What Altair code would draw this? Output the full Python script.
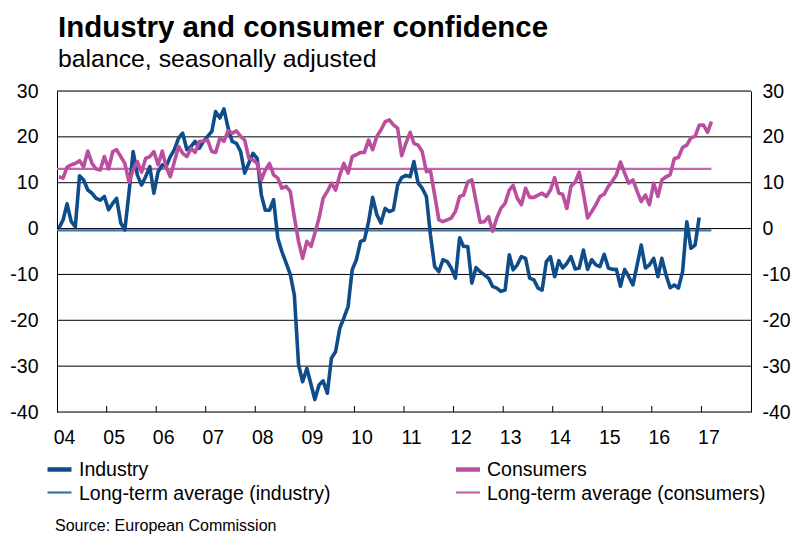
import altair as alt
import pandas as pd

# ---- data (monthly, Jan 2004 onwards) ----
industry = [
    0.1, 1.9, 5.4, 1.5, 0.4, 11.5, 10.6, 8.4, 7.7, 6.6, 6.2, 7.0,
    4.1, 5.5, 6.6, 1.2, -0.3, 8.0, 16.8, 11.7, 9.5, 11.3, 13.5, 7.7,
    12.4, 13.9, 13.5, 15.7, 17.2, 19.7, 20.8, 17.2, 17.9, 19.0, 17.5, 19.0,
    20.1, 21.2, 25.5, 24.1, 26.1, 21.9, 19.0, 18.6, 16.8, 12.1, 14.3, 16.4,
    15.3, 7.3, 4.0, 4.0, 6.3, -2.1, -5.0, -7.5, -10.0, -14.5, -29.7, -33.4,
    -30.5, -34.0, -37.3, -34.1, -33.2, -35.9, -28.3, -26.8, -21.7, -19.5, -17.0, -9.0,
    -6.8, -2.8, -2.5, 1.5, 6.8, 3.0, 1.2, 4.4, 3.7, 4.1, 9.5, 11.1,
    11.6, 11.3, 14.6, 9.9, 8.8, 7.0, -1.4, -8.3, -9.4, -6.8, -7.2, -8.6,
    -10.8, -2.0, -3.9, -3.9, -11.9, -8.5, -9.4, -10.1, -10.8, -12.6, -13.0, -13.7,
    -13.4, -5.7, -9.0, -7.9, -6.1, -6.5, -10.8, -11.2, -13.0, -13.4, -7.2, -6.1,
    -10.5, -7.0, -8.6, -7.6, -6.1, -8.8, -8.6, -4.7, -8.9, -6.8, -7.9, -8.3,
    -5.6, -8.6, -8.9, -8.9, -12.6, -8.9, -10.5, -12.3, -7.9, -3.6, -8.6, -7.9,
    -6.5, -10.5, -6.5, -10.1, -12.9, -12.3, -13.0, -9.4, 1.5, -4.3, -3.6, 2.4,
]
consumers = [
    11.3, 11.0, 13.4, 13.9, 14.2, 14.8, 13.5, 16.9, 14.2, 13.0, 12.8, 15.7,
    13.0, 16.8, 17.2, 15.7, 14.2, 10.1, 12.8, 14.6, 12.3, 15.3, 15.7, 16.8,
    13.9, 16.9, 13.5, 11.3, 14.6, 17.9, 16.4, 15.7, 17.5, 16.6, 19.0, 19.1,
    19.3, 16.8, 16.6, 19.7, 19.0, 21.3, 20.8, 21.3, 20.1, 19.3, 15.3, 15.0,
    14.2, 10.6, 12.8, 14.2, 11.7, 11.0, 8.8, 9.2, 8.1, 2.5, -2.8, -6.5,
    -2.8, -3.9, -1.0, 2.3, 6.6, 8.1, 9.9, 8.4, 11.7, 14.2, 12.1, 15.7,
    16.1, 16.6, 16.6, 19.3, 17.2, 20.1, 21.5, 23.3, 23.7, 22.6, 21.9, 15.9,
    18.6, 21.0, 18.6, 18.2, 16.8, 12.4, 12.6, 7.3, 1.9, 1.5, 1.9, 2.3,
    3.7, 7.0, 7.3, 10.2, 10.6, 5.9, 1.4, 1.5, 2.6, -0.6, 2.3, 4.4,
    5.5, 8.4, 9.4, 6.6, 5.2, 8.8, 6.8, 6.8, 7.3, 7.7, 7.0, 8.4,
    11.1, 7.7, 7.5, 4.4, 9.2, 10.1, 12.3, 7.7, 2.3, 3.7, 5.2, 7.0,
    7.5, 9.2, 10.3, 11.7, 14.5, 12.1, 9.9, 10.6, 8.1, 5.9, 7.3, 5.2,
    9.9, 7.0, 10.6, 11.3, 11.7, 15.3, 15.5, 17.7, 18.2, 19.8, 20.1, 22.5,
    22.6, 21.0, 23.3,
]
avg_series = ["industry", "consumers"]
avg_values = [-0.4, 13.0]
avg_start = "2004-01-01"
avg_end = "2017-03-15"
y_ticks = [30, 20, 10, 0, -10, -20, -30, -40]
year_ticks = list(range(2004, 2018))
year_labels = ["04", "05", "06", "07", "08", "09", "10",
               "11", "12", "13", "14", "15", "16", "17"]

legend_labels = ["Industry", "Long-term average (industry)",
                 "Consumers", "Long-term average (consumers)"]
title_text = "Industry and consumer confidence"
subtitle_text = "balance, seasonally adjusted"
source_text = "Source: European Commission"

BLUE = "#0f4c8a"
BLUE_AVG = "#3b74ad"
PINK = "#bb4f9f"
PINK_AVG = "#c565b0"
FONT = "Liberation Sans"
TICK_FS = 19.5


def month_dates(n):
    d = pd.date_range("2004-01-01", periods=n, freq="MS") + pd.Timedelta(days=14)
    return [x.strftime("%Y-%m-%d") for x in d]


ind_df = pd.DataFrame({"date": month_dates(len(industry)), "value": industry})
con_df = pd.DataFrame({"date": month_dates(len(consumers)), "value": consumers})
avg_df = pd.DataFrame({"series": avg_series, "value": avg_values,
                       "start": [avg_start] * 2, "end": [avg_end] * 2})
grid_df = pd.DataFrame({"v": y_ticks})
tick_df = pd.DataFrame({"date": [f"{y}-01-01" for y in year_ticks[1:]]})
xlab_df = pd.DataFrame({"date": [f"{y}-01-01" for y in year_ticks],
                        "label": year_labels})

W, H = 694, 321
xdom = [alt.DateTime(year=2004, month=1, date=1, utc=True),
        alt.DateTime(year=2018, month=1, date=1, utc=True)]
xscale = alt.Scale(type="utc", domain=xdom)
yscale = alt.Scale(domain=[-40, 30], nice=False, zero=False)

x_axis = alt.Axis(
    labels=False, title=None, ticks=False, grid=False,
    domainColor="black", domainWidth=1,
)


def y_axis(orient, pad):
    return alt.Axis(
        orient=orient, values=y_ticks, title=None, ticks=False, grid=False,
        domainColor="black", domainWidth=1, labelFontSize=TICK_FS,
        labelColor="black", labelPadding=pad, labelFont=FONT,
        labelFlush=False, labelExpr="'' + datum.value",
    )


grid = alt.Chart(grid_df).mark_rule(color="black", strokeWidth=1).encode(
    y=alt.Y("v:Q", scale=yscale, axis=y_axis("right", 11)),
)

avg_rules = alt.Chart(avg_df).mark_rule(strokeWidth=2.2).encode(
    x=alt.X("start:T", scale=xscale, axis=None),
    x2="end:T",
    y=alt.Y("value:Q", scale=yscale, axis=None),
    color=alt.Color("series:N", scale=alt.Scale(domain=avg_series,
                                                range=[BLUE_AVG, PINK_AVG]),
                    legend=None),
)

ind_line = alt.Chart(ind_df).mark_line(color=BLUE, strokeWidth=3.6,
                                       strokeJoin="round").encode(
    x=alt.X("date:T", scale=xscale, axis=x_axis),
    y=alt.Y("value:Q", scale=yscale, axis=y_axis("left", 19)),
)

con_line = alt.Chart(con_df).mark_line(color=PINK, strokeWidth=3.6,
                                       strokeJoin="round").encode(
    x=alt.X("date:T", scale=xscale, axis=None),
    y=alt.Y("value:Q", scale=yscale, axis=None),
)

ticks = alt.Chart(tick_df).mark_rule(color="black", strokeWidth=1).encode(
    x=alt.X("date:T", scale=xscale, axis=None),
    y=alt.value(H),
    y2=alt.value(H - 6),
)

xlabels = alt.Chart(xlab_df).mark_text(
    align="center", baseline="alphabetic", fontSize=TICK_FS, font=FONT,
    color="black", dx=7.5,
).encode(
    x=alt.X("date:T", scale=xscale, axis=None),
    y=alt.value(H + 32),
    text="label:N",
)


def text_layer(txt, x, y, size, bold=False):
    return alt.Chart(pd.DataFrame({"t": [txt]})).mark_text(
        align="left", baseline="alphabetic", fontSize=size, font=FONT,
        fontWeight="bold" if bold else "normal", color="black",
    ).encode(text="t:N", x=alt.value(x), y=alt.value(y))


def legend_line(x1, y, color, width):
    return alt.Chart(pd.DataFrame({"a": [0]})).mark_rule(
        color=color, strokeWidth=width).encode(
        x=alt.value(x1), x2=alt.value(x1 + 24), y=alt.value(y))


title = text_layer(title_text, 1, -54.5, 29.5, bold=True)
subtitle = text_layer(subtitle_text, 1, -24.5, 24.8)
source = text_layer(source_text, -2, 439.5, 16)

LEG_FS = 19.5
leg = [
    legend_line(-9.5, 378.5, BLUE, 4.5), text_layer(legend_labels[0], 22, 385, LEG_FS),
    legend_line(-9.5, 401.5, BLUE_AVG, 2.2), text_layer(legend_labels[1], 22, 409, LEG_FS),
    legend_line(399, 378.5, PINK, 4.5), text_layer(legend_labels[2], 430, 385, LEG_FS),
    legend_line(399, 401.5, PINK_AVG, 2.2), text_layer(legend_labels[3], 430, 409, LEG_FS),
]

chart = alt.layer(
    grid, avg_rules, ind_line, con_line, ticks, xlabels,
    title, subtitle, source, *leg
).resolve_scale(y="independent").properties(
    width=W, height=H,
    autosize=alt.AutoSizeParams(type="none"),
    padding={"left": 49, "top": 83, "right": 40, "bottom": 127},
).configure_view(stroke=None).configure(font=FONT)

chart.save("out.html", embed_options={"renderer": "svg", "actions": False})
